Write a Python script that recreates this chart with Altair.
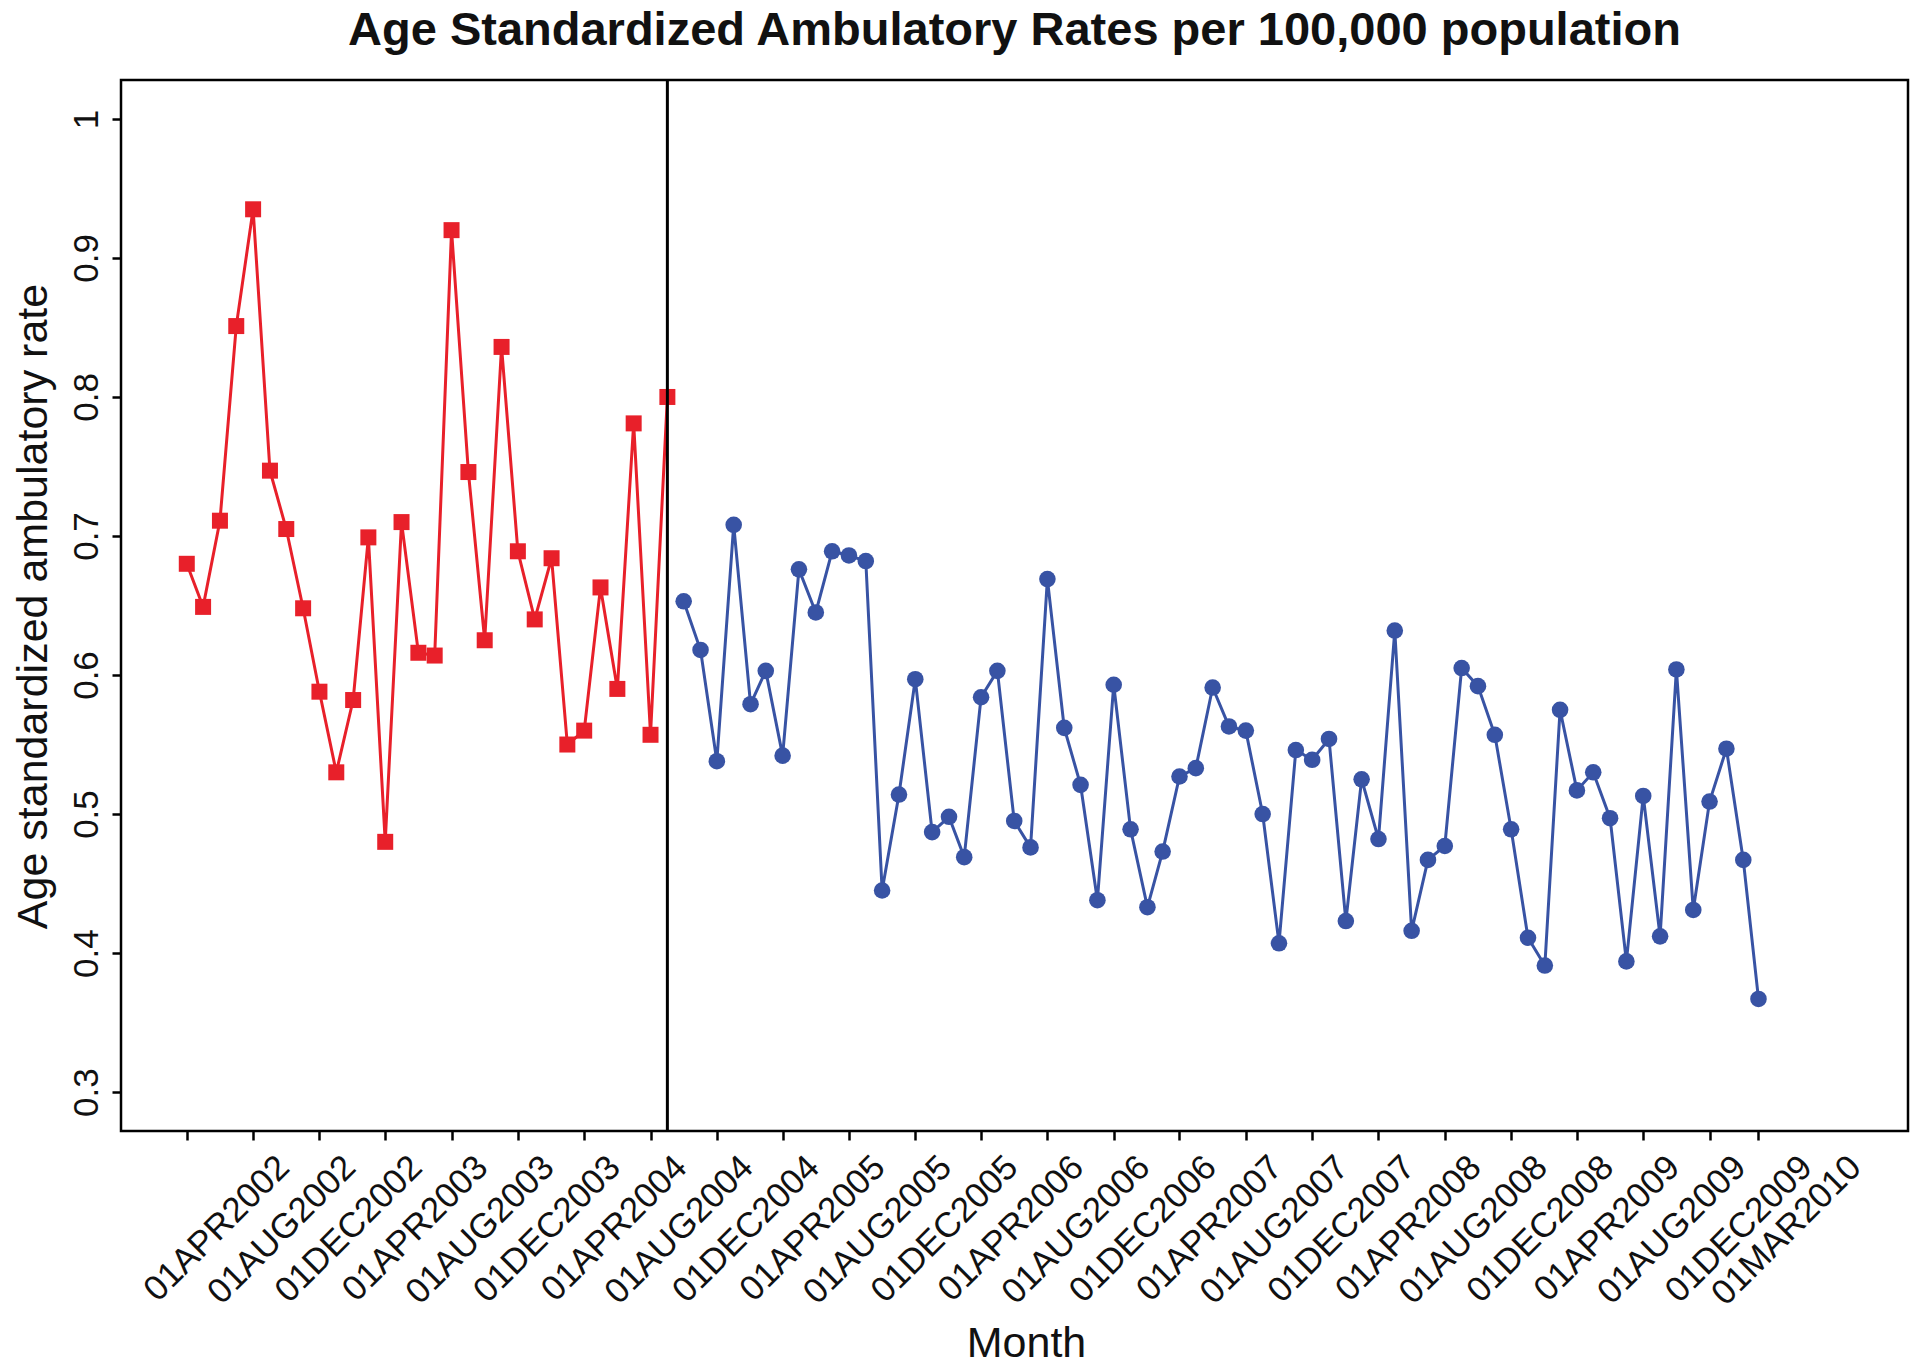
import altair as alt
import pandas as pd

# ---- data ----
pre_values = [0.680, 0.649, 0.711, 0.851, 0.935, 0.747, 0.705, 0.648, 0.588, 0.530,
              0.582, 0.699, 0.480, 0.710, 0.616, 0.614, 0.920, 0.746, 0.625, 0.836,
              0.689, 0.640, 0.684, 0.550, 0.560, 0.663, 0.590, 0.781, 0.557, 0.800]
post_values = [0.653, 0.618, 0.538, 0.708, 0.579, 0.603, 0.542, 0.676, 0.645, 0.689,
               0.686, 0.682, 0.445, 0.514, 0.597, 0.487, 0.498, 0.469, 0.584, 0.603,
               0.495, 0.476, 0.669, 0.562, 0.521, 0.438, 0.593, 0.489, 0.433, 0.473,
               0.527, 0.533, 0.591, 0.563, 0.560, 0.500, 0.407, 0.546, 0.539, 0.554,
               0.423, 0.525, 0.482, 0.632, 0.416, 0.467, 0.477, 0.605, 0.592, 0.557,
               0.489, 0.411, 0.391, 0.575, 0.517, 0.530, 0.497, 0.394, 0.513, 0.412,
               0.604, 0.431, 0.509, 0.547, 0.467, 0.367]
first_month = "2002-04-01"
intervention_month = "2004-09-01"
tick_dates = ["2002-04-01", "2002-08-01", "2002-12-01", "2003-04-01", "2003-08-01",
              "2003-12-01", "2004-04-01", "2004-08-01", "2004-12-01", "2005-04-01",
              "2005-08-01", "2005-12-01", "2006-04-01", "2006-08-01", "2006-12-01",
              "2007-04-01", "2007-08-01", "2007-12-01", "2008-04-01", "2008-08-01",
              "2008-12-01", "2009-04-01", "2009-08-01", "2009-12-01", "2010-03-01"]
y_ticks = [0.3, 0.4, 0.5, 0.6, 0.7, 0.8, 0.9, 1.0]
x_domain = ["2001-12-01", "2010-12-01"]
y_domain = [0.272, 1.028]
title_text = "Age Standardized Ambulatory Rates per 100,000 population"

RED = "#E8202A"
BLUE = "#3853A4"
FONT = "Liberation Sans"
W, H = 1787, 1051

months = pd.date_range(first_month, periods=len(pre_values) + len(post_values), freq="MS")
df = pd.DataFrame({
    "month": months.strftime("%Y-%m-%d"),
    "rate": pre_values + post_values,
    "period": ["pre"] * len(pre_values) + ["post"] * len(post_values),
})
vline = pd.DataFrame({"month": [intervention_month]})
title_df = pd.DataFrame({"title": [title_text]})


def to_dt(s):
    y, m, d = (int(p) for p in s.split("-"))
    return alt.DateTime(year=y, month=m, date=d, utc=True)


x_scale = alt.Scale(type="utc", domain=[to_dt(d) for d in x_domain], nice=False)
y_scale = alt.Scale(domain=y_domain, nice=False, zero=False)

x_axis = alt.Axis(
    values=[to_dt(d) for d in tick_dates],
    labelExpr="'01' + upper(utcFormat(datum.value, '%b%Y'))",
    labelAngle=-45, labelAlign="right", labelBaseline="alphabetic",
    labelOffset=104, labelPadding=29, labelFontSize=35, labelFont=FONT,
    labelColor="#111111", labelOverlap=False, labelFlush=False, labelBound=False,
    labelLimit=600,
    tickSize=9, tickWidth=2.5, tickColor="black", domain=False, grid=False,
    title="Month", titleFont=FONT, titleFontSize=43, titleFontWeight="normal",
    titleColor="#111111", titleX=905, titleY=225, titleAlign="center",
    titleBaseline="alphabetic", titleAngle=0,
)
y_axis = alt.Axis(
    values=y_ticks,
    labelExpr="datum.value == 1 ? '1' : format(datum.value, '.1f')",
    labelAngle=-90, labelAlign="center", labelBaseline="alphabetic",
    labelPadding=15, labelFontSize=35, labelFont=FONT, labelColor="#111111",
    labelOverlap=False, labelFlush=False, labelBound=False,
    tickSize=9, tickWidth=2.5, tickColor="black", domain=False, grid=False,
    title="Age standardized ambulatory rate", titleFont=FONT, titleFontSize=43,
    titleFontWeight="normal", titleColor="#111111", titleX=-75, titleY=526,
    titleAlign="center", titleBaseline="alphabetic", titleAngle=-90,
    titleLimit=1000,
)

base = alt.Chart(df).encode(
    x=alt.X("month:T", scale=x_scale, axis=x_axis),
    y=alt.Y("rate:Q", scale=y_scale, axis=y_axis),
    color=alt.Color("period:N", scale=alt.Scale(domain=["pre", "post"], range=[RED, BLUE]), legend=None),
)

lines = base.mark_line(strokeWidth=3).encode(detail="period:N")
points = base.mark_point(filled=True, opacity=1, strokeWidth=0).encode(
    shape=alt.Shape("period:N", scale=alt.Scale(domain=["pre", "post"], range=["square", "circle"]), legend=None),
    size=alt.Size("period:N", scale=alt.Scale(domain=["pre", "post"], range=[256, 275]), legend=None),
)
rule = alt.Chart(vline).mark_rule(color="black", strokeWidth=3).encode(
    x=alt.X("month:T", scale=x_scale)
)
title = alt.Chart(title_df).mark_text(
    font=FONT, fontSize=47, fontWeight="bold", color="#111111",
    align="center", baseline="alphabetic",
).encode(text="title:N", x=alt.value(W / 2), y=alt.value(-35))

chart = alt.layer(lines, points, rule, title).properties(
    width=W,
    height=H,
    background="white",
    autosize=alt.AutoSizeParams(type="none"),
    padding={"left": 113, "top": 72, "right": 2, "bottom": 231},
).configure_view(stroke="black", strokeWidth=2.5)

chart.save("out.html", embed_options={"renderer": "svg", "actions": False})
